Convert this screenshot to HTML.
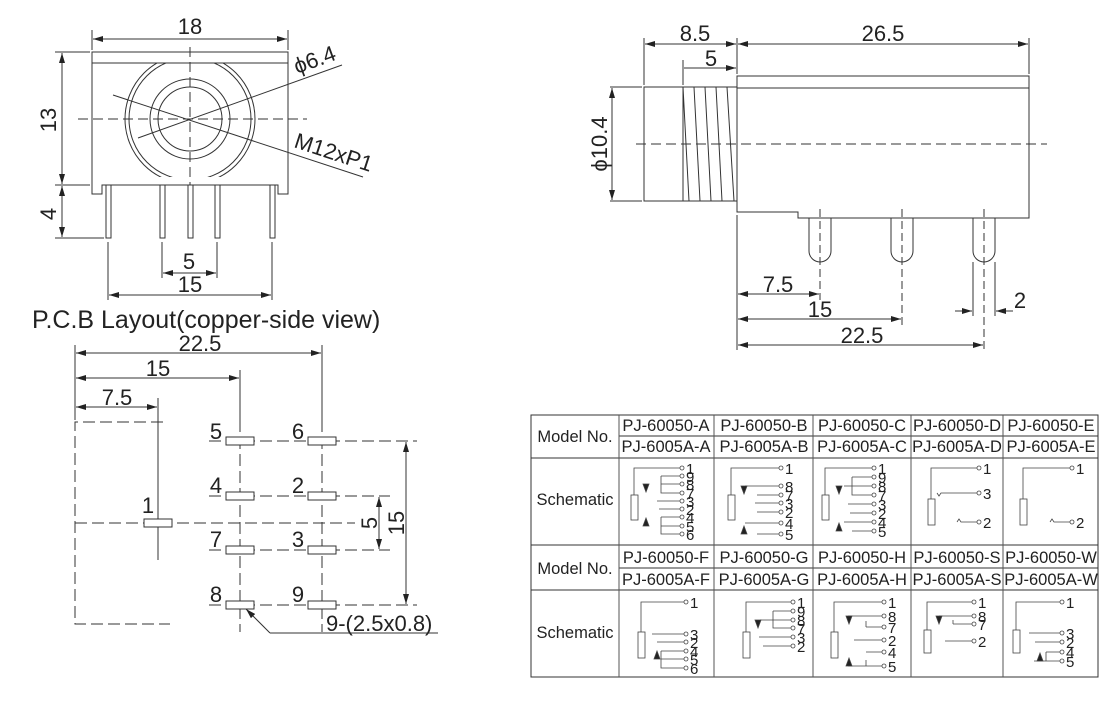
<!DOCTYPE html>
<html><head><meta charset="utf-8"><style>
html,body{margin:0;padding:0;background:#fff}
svg{display:block}
text{font-family:"Liberation Sans",sans-serif;fill:#222}
</style></head><body>
<svg width="1120" height="704" viewBox="0 0 1120 704" xmlns="http://www.w3.org/2000/svg">
<defs>
<marker id="a" viewBox="0 0 10 6" refX="10" refY="3" markerWidth="10" markerHeight="6" orient="auto-start-reverse" markerUnits="userSpaceOnUse"><path d="M0,0 L10,3 L0,6 Z" fill="#222"/></marker>
<clipPath id="cc"><rect x="92" y="63" width="196" height="114"/></clipPath>
</defs>
<g stroke="#333" stroke-width="1" fill="none">
<!-- FRONT VIEW -->
<path d="M92,52 H288 V194 H278 V185 H102 V194 H92 Z"/>
<line x1="92" y1="63" x2="288" y2="63"/>
<g clip-path="url(#cc)"><circle cx="190" cy="119" r="65"/><circle cx="190" cy="119" r="61"/></g>
<circle cx="190" cy="119" r="40"/><circle cx="190" cy="119" r="32"/>
<line x1="78" y1="119" x2="307" y2="119" stroke-dasharray="10,5"/>
<line x1="190" y1="47" x2="190" y2="190" stroke-dasharray="10,5"/>
<line x1="138" y1="138" x2="342" y2="65"/>
<line x1="113" y1="95" x2="363" y2="177"/>
<g fill="#fff"><rect x="106" y="185" width="5" height="53"/><rect x="160" y="185" width="5" height="53"/><rect x="188" y="185" width="5" height="53"/><rect x="215" y="185" width="5" height="53"/><rect x="270" y="185" width="5" height="53"/></g>
<line x1="92" y1="30" x2="92" y2="50"/><line x1="288" y1="30" x2="288" y2="50"/>
<line x1="93" y1="39" x2="287" y2="39" marker-start="url(#a)" marker-end="url(#a)"/>
<line x1="55" y1="52" x2="90" y2="52"/><line x1="55" y1="185" x2="90" y2="185"/><line x1="55" y1="238" x2="104" y2="238"/>
<line x1="62" y1="53" x2="62" y2="184" marker-start="url(#a)" marker-end="url(#a)"/>
<line x1="62" y1="186" x2="62" y2="237" marker-start="url(#a)" marker-end="url(#a)"/>
<line x1="108" y1="242" x2="108" y2="300"/><line x1="272" y1="242" x2="272" y2="300"/>
<line x1="162" y1="242" x2="162" y2="278"/><line x1="217" y1="242" x2="217" y2="278"/>
<line x1="163" y1="273" x2="216" y2="273" marker-start="url(#a)" marker-end="url(#a)"/>
<line x1="109" y1="295" x2="271" y2="295" marker-start="url(#a)" marker-end="url(#a)"/>

<!-- SIDE VIEW -->
<rect x="644" y="87" width="93" height="114"/>
<line x1="683" y1="87" x2="683" y2="201"/>
<path d="M683,87 L689,201 M694,87 L700,201 M705,87 L711,201 M716,87 L722,201 M727,87 L734,201"/>
<path d="M737,76 H1029 V218 H798 V212 H737 Z"/>
<line x1="737" y1="88" x2="1029" y2="88"/>
<line x1="636" y1="144" x2="1047" y2="144" stroke-dasharray="10,5"/>
<path d="M809,218 V251 A11,11 0 0 0 831,251 V218"/>
<path d="M891,218 V251 A11,11 0 0 0 913,251 V218"/>
<path d="M973,218 V251 A11,11 0 0 0 995,251 V218"/>
<g stroke-dasharray="8,4"><line x1="820" y1="209" x2="820" y2="300"/><line x1="902" y1="209" x2="902" y2="325"/><line x1="984" y1="209" x2="984" y2="350"/></g>
<line x1="644" y1="38" x2="644" y2="85"/><line x1="737" y1="38" x2="737" y2="74"/><line x1="1029" y1="38" x2="1029" y2="74"/>
<line x1="683" y1="60" x2="683" y2="85"/>
<line x1="645" y1="44" x2="736" y2="44" marker-start="url(#a)" marker-end="url(#a)"/>
<line x1="738" y1="44" x2="1028" y2="44" marker-start="url(#a)" marker-end="url(#a)"/>
<line x1="684" y1="68" x2="736" y2="68" marker-end="url(#a)"/>
<line x1="610" y1="87" x2="642" y2="87"/><line x1="610" y1="201" x2="642" y2="201"/>
<line x1="612" y1="88" x2="612" y2="200" marker-start="url(#a)" marker-end="url(#a)"/>
<line x1="737" y1="215" x2="737" y2="350"/>
<line x1="738" y1="294" x2="819" y2="294" marker-start="url(#a)" marker-end="url(#a)"/>
<line x1="738" y1="319" x2="901" y2="319" marker-start="url(#a)" marker-end="url(#a)"/>
<line x1="738" y1="345" x2="983" y2="345" marker-start="url(#a)" marker-end="url(#a)"/>
<line x1="973" y1="262" x2="973" y2="316"/><line x1="995" y1="262" x2="995" y2="316"/>
<line x1="955" y1="311" x2="972" y2="311" marker-end="url(#a)"/>
<line x1="1013" y1="311" x2="996" y2="311" marker-end="url(#a)"/>

<!-- PCB -->
<path d="M163,422 H75 V624 H170" stroke-dasharray="12,5"/>
<line x1="75" y1="523" x2="355" y2="523" stroke-dasharray="12,5"/>
<g stroke-dasharray="12,5"><line x1="209" y1="441" x2="417" y2="441"/><line x1="209" y1="496" x2="390" y2="496"/><line x1="209" y1="550" x2="390" y2="550"/><line x1="209" y1="605" x2="417" y2="605"/>
<line x1="240" y1="420" x2="240" y2="632"/><line x1="322" y1="420" x2="322" y2="632"/></g>
<line x1="75" y1="345" x2="75" y2="420"/><line x1="158" y1="398" x2="158" y2="560"/>
<line x1="240" y1="370" x2="240" y2="420"/><line x1="322" y1="345" x2="322" y2="420"/>
<line x1="76" y1="353" x2="321" y2="353" marker-start="url(#a)" marker-end="url(#a)"/>
<line x1="76" y1="378" x2="239" y2="378" marker-start="url(#a)" marker-end="url(#a)"/>
<line x1="76" y1="407" x2="157" y2="407" marker-start="url(#a)" marker-end="url(#a)"/>
<line x1="379" y1="497" x2="379" y2="549" marker-start="url(#a)" marker-end="url(#a)"/>
<line x1="406" y1="442" x2="406" y2="604" marker-start="url(#a)" marker-end="url(#a)"/>
<g fill="#fff">
<rect x="144" y="519" width="28" height="8"/>
<rect x="226" y="437" width="28" height="8"/><rect x="308" y="437" width="28" height="8"/>
<rect x="226" y="492" width="28" height="8"/><rect x="308" y="492" width="28" height="8"/>
<rect x="226" y="546" width="28" height="8"/><rect x="308" y="546" width="28" height="8"/>
<rect x="226" y="601" width="28" height="8"/><rect x="308" y="601" width="28" height="8"/>
</g>
<path d="M270,633 L246,609" marker-end="url(#a)"/>
<line x1="270" y1="633" x2="438" y2="633"/>

<!-- TABLE -->
<rect x="531" y="415" width="567" height="262"/>
<line x1="531" y1="458" x2="1098" y2="458"/><line x1="531" y1="545" x2="1098" y2="545"/><line x1="531" y1="590" x2="1098" y2="590"/>
<line x1="619" y1="436" x2="1098" y2="436"/><line x1="619" y1="568" x2="1098" y2="568"/>
<g stroke="#555"><line x1="619" y1="415" x2="619" y2="677"/><line x1="714" y1="415" x2="714" y2="677"/><line x1="813" y1="415" x2="813" y2="677"/><line x1="911" y1="415" x2="911" y2="677"/><line x1="1003" y1="415" x2="1003" y2="677"/></g>
</g>

<!-- TEXT -->
<g font-size="22">
<text x="190" y="34" text-anchor="middle">18</text>
<text transform="translate(56,120) rotate(-90)" text-anchor="middle">13</text>
<text transform="translate(56,214) rotate(-90)" text-anchor="middle">4</text>
<text x="189" y="269" text-anchor="middle">5</text>
<text x="190" y="292" text-anchor="middle">15</text>
<text transform="translate(297,74) rotate(-20)">ϕ6.4</text>
<text transform="translate(293,147) rotate(18)">M12xP1</text>
<text x="695" y="41" text-anchor="middle">8.5</text>
<text x="883" y="41" text-anchor="middle">26.5</text>
<text x="711" y="66" text-anchor="middle">5</text>
<text transform="translate(607,144) rotate(-90)" text-anchor="middle">ϕ10.4</text>
<text x="778" y="292" text-anchor="middle">7.5</text>
<text x="820" y="317" text-anchor="middle">15</text>
<text x="862" y="343" text-anchor="middle">22.5</text>
<text x="1020" y="308" text-anchor="middle">2</text>
<text x="200" y="351" text-anchor="middle">22.5</text>
<text x="158" y="376" text-anchor="middle">15</text>
<text x="117" y="405" text-anchor="middle">7.5</text>
<text x="216" y="439" text-anchor="middle">5</text><text x="298" y="439" text-anchor="middle">6</text>
<text x="216" y="493" text-anchor="middle">4</text><text x="298" y="493" text-anchor="middle">2</text>
<text x="148" y="513" text-anchor="middle">1</text>
<text x="216" y="547" text-anchor="middle">7</text><text x="298" y="547" text-anchor="middle">3</text>
<text x="216" y="602" text-anchor="middle">8</text><text x="298" y="602" text-anchor="middle">9</text>
<text transform="translate(377,523) rotate(-90)" text-anchor="middle">5</text>
<text transform="translate(404,523) rotate(-90)" text-anchor="middle">15</text>
<text x="326" y="631">9-(2.5x0.8)</text>
</g>
<text x="32" y="328" font-size="25">P.C.B Layout(copper-side view)</text>

<g font-size="16.5" text-anchor="middle">
<text x="575" y="442">Model No.</text>
<text x="575" y="505">Schematic</text>
<text x="575" y="574">Model No.</text>
<text x="575" y="638">Schematic</text>
<text x="666" y="431">PJ-60050-A</text><text x="764" y="431">PJ-60050-B</text><text x="862" y="431">PJ-60050-C</text><text x="957" y="431">PJ-60050-D</text><text x="1051" y="431">PJ-60050-E</text>
<text x="666" y="452">PJ-6005A-A</text><text x="764" y="452">PJ-6005A-B</text><text x="862" y="452">PJ-6005A-C</text><text x="957" y="452">PJ-6005A-D</text><text x="1051" y="452">PJ-6005A-E</text>
<text x="666" y="563">PJ-60050-F</text><text x="764" y="563">PJ-60050-G</text><text x="862" y="563">PJ-60050-H</text><text x="957" y="563">PJ-60050-S</text><text x="1051" y="563">PJ-60050-W</text>
<text x="666" y="585">PJ-6005A-F</text><text x="764" y="585">PJ-6005A-G</text><text x="862" y="585">PJ-6005A-H</text><text x="957" y="585">PJ-6005A-S</text><text x="1051" y="585">PJ-6005A-W</text>
</g>

<!-- SCHEMATICS -->
<g stroke="#444" stroke-width="0.8" fill="none">
<g transform="translate(619,455)"><rect x="12" y="40" width="7" height="25"/><path d="M15,40 V13 H61"/>
<path d="M42,21 V38 H61 M42,21 H61 M42,29 H61 M38,46 H61 M40,54 H61 M42,62 V79 H61 M42,62 H61 M42,71 H61"/>
<g fill="#fff"><circle cx="63" cy="13" r="2"/><circle cx="63" cy="21" r="2"/><circle cx="63" cy="29" r="2"/><circle cx="63" cy="38" r="2"/><circle cx="63" cy="46" r="2"/><circle cx="63" cy="54" r="2"/><circle cx="63" cy="62" r="2"/><circle cx="63" cy="71" r="2"/><circle cx="63" cy="79" r="2"/></g>
<path d="M24,29 h6 l-3,8z M24,71 h6 l-3,-8z" fill="#222"/></g>
<g transform="translate(715,455)"><rect x="13" y="40" width="7" height="25"/><path d="M16,40 V13 H64"/>
<path d="M30,31 H64 M42,40 H64 M40,48 H64 M42,57 H64 M30,68 H64 M42,79 H64"/>
<g fill="#fff"><circle cx="66" cy="13" r="2"/><circle cx="66" cy="31" r="2"/><circle cx="66" cy="40" r="2"/><circle cx="66" cy="48" r="2"/><circle cx="66" cy="57" r="2"/><circle cx="66" cy="68" r="2"/><circle cx="66" cy="79" r="2"/></g>
<path d="M26,31 h6 l-3,8z M26,79 h6 l-3,-8z" fill="#222"/></g>
<g transform="translate(814,455)"><rect x="8" y="40" width="7" height="25"/><path d="M11,40 V13 H58"/>
<path d="M38,22 V40 H58 M38,22 H58 M30,31 H58 M34,49 H58 M36,58 H58 M30,67 H58 M38,76 H58"/>
<g fill="#fff"><circle cx="60" cy="13" r="2"/><circle cx="60" cy="22" r="2"/><circle cx="60" cy="31" r="2"/><circle cx="60" cy="40" r="2"/><circle cx="60" cy="49" r="2"/><circle cx="60" cy="58" r="2"/><circle cx="60" cy="67" r="2"/><circle cx="60" cy="76" r="2"/></g>
<path d="M22,31 h6 l-3,8z M22,76 h6 l-3,-8z" fill="#222"/></g>
<g transform="translate(911,455)"><rect x="17" y="44" width="7" height="26"/><path d="M20,44 V13 H66"/>
<path d="M26,38 l2,3 l2,-3 H66 M46,67 l2,-3 l2,3 H66"/>
<g fill="#fff"><circle cx="68" cy="13" r="2"/><circle cx="68" cy="38" r="2"/><circle cx="68" cy="67" r="2"/></g></g>
<g transform="translate(1003,455)"><rect x="17" y="44" width="7" height="26"/><path d="M20,44 V13 H67"/>
<path d="M47,67 l2,-3 l2,3 H67"/>
<g fill="#fff"><circle cx="69" cy="13" r="2"/><circle cx="69" cy="67" r="2"/></g></g>
<g transform="translate(619,590)"><rect x="19" y="42" width="7" height="26"/><path d="M22,42 V12 H65"/>
<path d="M33,44 H65 M38,52 H65 M42,61 H65 M42,61 V78 H65 M42,69 H65"/>
<g fill="#fff"><circle cx="67" cy="12" r="2"/><circle cx="67" cy="44" r="2"/><circle cx="67" cy="52" r="2"/><circle cx="67" cy="61" r="2"/><circle cx="67" cy="69" r="2"/><circle cx="67" cy="78" r="2"/></g>
<path d="M35,69 h6 l-3,-8z" fill="#222"/></g>
<g transform="translate(715,590)"><rect x="28" y="42" width="7" height="26"/><path d="M31,42 V12 H76"/>
<path d="M58,21 V38 H76 M58,21 H76 M45,30 H76 M44,47 H76 M48,56 H76"/>
<g fill="#fff"><circle cx="78" cy="12" r="2"/><circle cx="78" cy="21" r="2"/><circle cx="78" cy="30" r="2"/><circle cx="78" cy="38" r="2"/><circle cx="78" cy="47" r="2"/><circle cx="78" cy="56" r="2"/></g>
<path d="M40,30 h6 l-3,8z" fill="#222"/></g>
<g transform="translate(814,590)"><rect x="17" y="42" width="7" height="26"/><path d="M20,42 V12 H68"/>
<path d="M34,26 H68 M52,37 H68 M52,31 V37 M40,50 H68 M52,62 H68 M34,76 H68 M52,70 V76"/>
<g fill="#fff"><circle cx="70" cy="12" r="2"/><circle cx="70" cy="26" r="2"/><circle cx="70" cy="37" r="2"/><circle cx="70" cy="50" r="2"/><circle cx="70" cy="62" r="2"/><circle cx="70" cy="76" r="2"/></g>
<path d="M32,26 h6 l-3,8z M32,76 h6 l-3,-8z" fill="#222"/></g>
<g transform="translate(911,590)"><rect x="13" y="40" width="7" height="23"/><path d="M16,40 V12 H61"/>
<path d="M28,26 H61 M42,34 H61 M42,30 V34 M34,51 H61"/>
<g fill="#fff"><circle cx="63" cy="12" r="2"/><circle cx="63" cy="26" r="2"/><circle cx="63" cy="34" r="2"/><circle cx="63" cy="51" r="2"/></g>
<path d="M25,26 h6 l-3,8z" fill="#222"/></g>
<g transform="translate(1003,590)"><rect x="10" y="40" width="7" height="23"/><path d="M13,40 V12 H57"/>
<path d="M26,43 H57 M32,52 H57 M43,62 H57 M43,62 V71 H57 M31,71 H43"/>
<g fill="#fff"><circle cx="59" cy="12" r="2"/><circle cx="59" cy="43" r="2"/><circle cx="59" cy="52" r="2"/><circle cx="59" cy="62" r="2"/><circle cx="59" cy="71" r="2"/></g>
<path d="M34,71 h6 l-3,-8z" fill="#222"/></g>
</g>
<g font-size="15">
<g transform="translate(619,455)"><text x="67" y="19">1</text><text x="67" y="27">9</text><text x="67" y="35">8</text><text x="67" y="44">7</text><text x="67" y="52">3</text><text x="67" y="60">2</text><text x="67" y="68">4</text><text x="67" y="77">5</text><text x="67" y="85">6</text></g>
<g transform="translate(715,455)"><text x="70" y="19">1</text><text x="70" y="37">8</text><text x="70" y="46">7</text><text x="70" y="54">3</text><text x="70" y="63">2</text><text x="70" y="74">4</text><text x="70" y="85">5</text></g>
<g transform="translate(814,455)"><text x="64" y="19">1</text><text x="64" y="28">9</text><text x="64" y="37">8</text><text x="64" y="46">7</text><text x="64" y="55">3</text><text x="64" y="64">2</text><text x="64" y="73">4</text><text x="64" y="82">5</text></g>
<g transform="translate(911,455)"><text x="72" y="19">1</text><text x="72" y="44">3</text><text x="72" y="73">2</text></g>
<g transform="translate(1003,455)"><text x="73" y="19">1</text><text x="73" y="73">2</text></g>
<g transform="translate(619,590)"><text x="71" y="18">1</text><text x="71" y="50">3</text><text x="71" y="58">2</text><text x="71" y="67">4</text><text x="71" y="75">5</text><text x="71" y="84">6</text></g>
<g transform="translate(715,590)"><text x="82" y="18">1</text><text x="82" y="27">9</text><text x="82" y="36">8</text><text x="82" y="44">7</text><text x="82" y="53">3</text><text x="82" y="62">2</text></g>
<g transform="translate(814,590)"><text x="74" y="18">1</text><text x="74" y="32">8</text><text x="74" y="43">7</text><text x="74" y="56">2</text><text x="74" y="68">4</text><text x="74" y="82">5</text></g>
<g transform="translate(911,590)"><text x="67" y="18">1</text><text x="67" y="32">8</text><text x="67" y="40">7</text><text x="67" y="57">2</text></g>
<g transform="translate(1003,590)"><text x="63" y="18">1</text><text x="63" y="49">3</text><text x="63" y="58">2</text><text x="63" y="68">4</text><text x="63" y="77">5</text></g>
</g>
</svg>
</body></html>
